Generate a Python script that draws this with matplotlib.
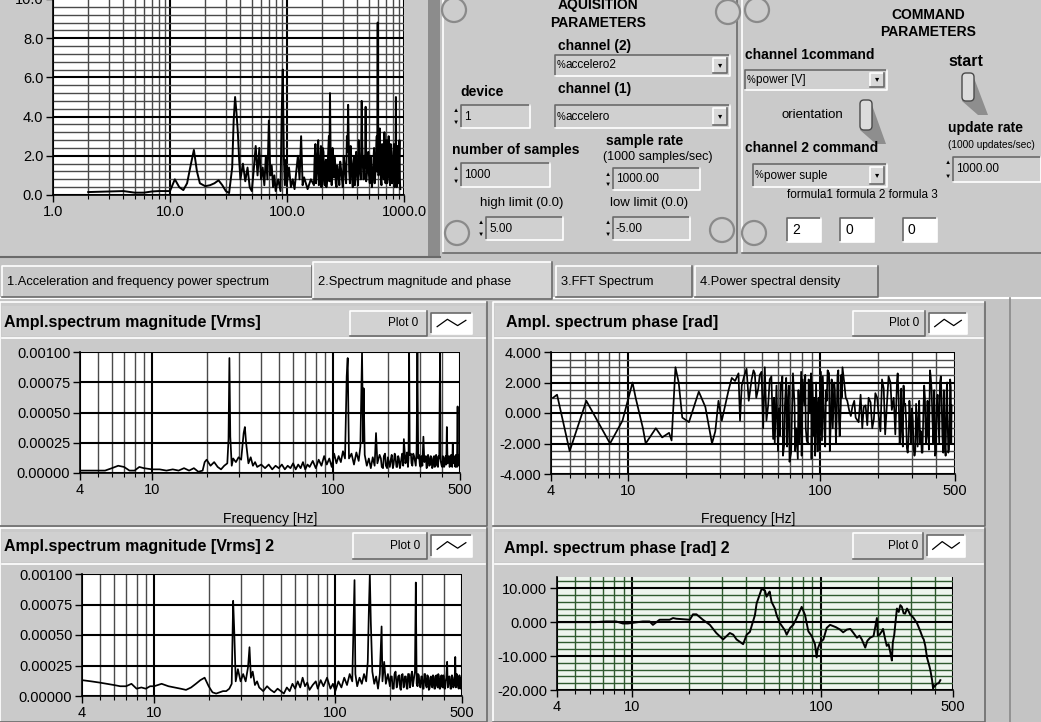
import numpy as np
import matplotlib
matplotlib.use("Agg")
import matplotlib.pyplot as plt
from matplotlib.patches import Rectangle, Circle, FancyBboxPatch, Polygon
from matplotlib.ticker import LogLocator, MultipleLocator, NullFormatter

W, H = 1041, 722
BG = '#c4c4c4'
PANEL = '#cacaca'

plt.rcParams['font.family'] = ['Liberation Sans', 'DejaVu Sans']

# ---- data (frequency [Hz], value) ----
# top left: acceleration / frequency power spectrum
power_pts = [
    (2, 0.15), (3, 0.18), (4, 0.2), (5, 0.12), (6, 0.12), (7, 0.18), (8, 0.2), (9, 0.2), (10, 0.2),
    (11, 0.8), (12, 0.4), (13, 0.25), (14, 0.6), (15, 1.5), (16, 2.3), (17, 1.2), (18, 0.6),
    (20, 0.45), (22, 0.5), (24, 0.6), (26, 0.75), (28, 0.5), (30, 0.2), (32, 0.1), (34, 1.4),
    (35, 3.8), (36, 5.0), (37, 4.2), (38, 3.2), (39, 1.8), (40, 0.8), (42, 1.6), (44, 0.7),
    (46, 1.4), (48, 0.4), (50, 0.2), (52, 1.3), (54, 2.5), (56, 1.0), (58, 2.4), (60, 0.8),
    (62, 1.4), (64, 0.5), (66, 2.0), (68, 0.8), (70, 3.8), (72, 1.0), (74, 1.5), (76, 0.4),
    (78, 1.0), (80, 0.2), (84, 0.8), (88, 0.2), (90, 4.0), (92, 6.4), (94, 2.0), (96, 0.5),
    (98, 1.8), (100, 0.6), (104, 1.4), (108, 0.4), (112, 0.8), (116, 0.3), (120, 1.2),
    (124, 2.0), (128, 0.8), (132, 3.0), (136, 0.5), (140, 0.9), (150, 0.3), (160, 0.8),
    (170, 0.5), (172, 1.8), (175, 2.6), (177, 0.6), (180, 1.2), (182, 2.0), (185, 2.8),
    (187, 0.5), (190, 0.6), (192, 1.6), (195, 2.5), (197, 0.4), (200, 1.0), (202, 2.4),
    (205, 2.2), (207, 0.8), (210, 0.5), (212, 1.5), (215, 1.8), (217, 0.4), (220, 0.8),
    (224, 1.9), (228, 3.0), (230, 0.7), (233, 5.2), (236, 2.0), (238, 1.0), (241, 0.5),
    (245, 2.4), (248, 1.2), (250, 0.9), (254, 2.0), (258, 1.6), (261, 0.6), (265, 0.4),
    (269, 1.5), (275, 1.1), (280, 0.5), (285, 1.7), (290, 1.3), (295, 0.8), (300, 0.4),
    (305, 2.0), (310, 1.6), (315, 0.9), (320, 0.6), (325, 3.0), (329, 2.2), (333, 4.6),
    (340, 1.2), (345, 0.6), (350, 2.5), (355, 1.8), (360, 0.8), (365, 0.4), (370, 1.6),
    (375, 2.0), (380, 0.5), (385, 0.9), (390, 2.2), (395, 1.5), (400, 1.0), (405, 0.5),
    (410, 2.8), (415, 1.8), (420, 1.2), (428, 0.8), (435, 4.8), (440, 2.6), (445, 1.5),
    (452, 0.8), (460, 2.0), (465, 1.4), (470, 4.5), (475, 0.7), (480, 1.0), (488, 1.5),
    (495, 2.2), (502, 1.0), (510, 0.6), (518, 2.0), (525, 1.4), (532, 0.4), (540, 0.8),
    (548, 1.8), (555, 2.4), (562, 0.6), (570, 1.2), (578, 2.2), (585, 3.0), (590, 1.2),
    (596, 8.8), (600, 2.8), (605, 1.0), (612, 1.2), (620, 3.4), (628, 2.0), (635, 0.8),
    (642, 0.5), (650, 2.6), (658, 2.2), (665, 1.2), (672, 0.8), (680, 3.2), (688, 2.0),
    (695, 0.6), (702, 1.2), (710, 2.8), (718, 0.6), (725, 1.0), (732, 2.4), (740, 3.0),
    (750, 1.0), (760, 0.5), (770, 2.6), (780, 2.2), (790, 0.6), (800, 0.8), (810, 1.8),
    (820, 2.6), (830, 0.4), (840, 1.0), (847, 2.0), (853, 5.0), (858, 1.0), (865, 0.4),
    (872, 1.6), (880, 2.5), (890, 1.0), (900, 0.6), (908, 2.0), (915, 2.8), (922, 0.8),
    (930, 0.3),
]

# middle left: amplitude spectrum magnitude [Vrms]
mag1_pts = [
    (4, 0.00002), (5, 0.00002), (5.5, 0.00002), (6, 0.00004), (6.5, 0.00006), (7, 0.00005),
    (7.5, 0.00002), (8, 0.00002), (8.5, 0.00005), (9, 0.00004), (10, 0.00003), (11, 0.00003),
    (12, 0.00002), (13, 0.00003), (14, 0.00002), (15, 0.00004), (16, 0.00002), (17, 0.00004),
    (18, 0.00001), (19, 0.00002), (19.5, 0.00009), (20, 0.00011), (21, 0.00006), (22, 0.00009),
    (23, 0.00005), (24, 0.00003), (25, 0.00006), (26, 0.00008), (26.4, 0.00028), (26.7, 0.00095),
    (27.0, 0.0003), (27.5, 0.00006), (28, 0.00012), (29, 0.00009), (30, 0.00013), (31, 0.00011),
    (32, 0.00033), (32.5, 0.00038), (33, 0.00025), (34, 0.00008), (35, 0.00013), (36, 0.00006),
    (37, 0.00009), (38, 0.00005), (40, 0.00007), (42, 0.00004), (44, 0.00007), (46, 0.00003),
    (48, 0.00006), (50, 0.00004), (52, 0.00007), (54, 0.00003), (56, 0.00006), (58, 0.00004),
    (60, 0.00008), (62, 0.00003), (64, 0.00007), (66, 0.00004), (68, 0.00009), (70, 0.00003),
    (72, 0.00007), (74, 0.00005), (77, 0.0001), (80, 0.00004), (83, 0.00011), (86, 0.00006),
    (89, 0.00014), (92, 0.00007), (95, 0.00012), (98, 0.00005), (101, 0.00016), (104, 0.00008),
    (107, 0.00014), (110, 0.00009), (113, 0.00018), (116, 0.00012), (118.5, 0.0008),
    (120, 0.00095), (122, 0.00012), (126, 0.00016), (130, 0.00007), (134, 0.00017),
    (138, 0.0001), (141, 0.00022), (144, 0.001), (146, 0.00025), (147, 0.0007), (149, 0.00015),
    (153, 0.00006), (157, 0.00012), (161, 0.00004), (165, 0.00013), (169, 0.00006),
    (172, 0.00033), (175, 0.00008), (180, 0.00015), (183, 0.00012), (185, 0.00005),
    (188, 0.00004), (190, 0.00014), (193, 0.00016), (195, 0.00006), (198, 0.00004),
    (200, 0.00013), (205, 0.00005), (208, 0.00012), (210, 0.00015), (213, 0.00004),
    (215, 0.00007), (218, 0.00016), (220, 0.00014), (223, 0.00005), (225, 0.00005),
    (228, 0.00014), (230, 0.00012), (233, 0.00004), (235, 0.00007), (238, 0.00013),
    (240, 0.00016), (243, 0.00006), (245, 0.00028), (250, 0.00008), (253, 0.00012),
    (255, 0.00017), (258, 0.00005), (260, 0.00012), (262, 0.001), (264, 0.00015),
    (268, 0.00016), (270, 0.00008), (273, 0.00006), (276, 0.00016), (279, 0.00014),
    (282, 0.0001), (285, 0.00006), (288, 0.00018), (291, 0.001), (294, 0.00012),
    (297, 0.00015), (300, 0.00007), (303, 0.00005), (306, 0.00014), (310, 0.00006),
    (314, 0.0003), (318, 0.00009), (321, 0.00012), (324, 0.00014), (327, 0.00004),
    (330, 0.00005), (333, 0.00015), (336, 0.00013), (339, 0.00006), (342, 0.00007),
    (345, 0.00014), (348, 0.00012), (351, 0.00004), (354, 0.00005), (357, 0.00013),
    (360, 0.00014), (363, 0.00005), (366, 0.00006), (369, 0.00015), (372, 0.00013),
    (375, 0.00006), (378, 0.00005), (381, 0.00014), (384, 0.00012), (388, 0.001),
    (391, 0.0001), (396, 0.00006), (399, 0.00005), (402, 0.00014), (405, 0.00013),
    (408, 0.00005), (411, 0.00006), (414, 0.00012), (417, 0.00014), (420, 0.00007),
    (423, 0.00038), (427, 0.00008), (432, 0.00013), (435, 0.00014), (438, 0.00005),
    (441, 0.00006), (444, 0.00012), (447, 0.00015), (450, 0.00006), (453, 0.00005),
    (456, 0.00025), (460, 0.00008), (463, 0.00014), (466, 0.00013), (469, 0.00006),
    (472, 0.00005), (475, 0.00015), (478, 0.00012), (481, 0.00005), (485, 0.00055),
    (488, 0.00006), (491, 0.00015), (494, 0.00012), (497, 0.00006), (500, 0.0001),
]

# middle right: amplitude spectrum phase [rad]
phase1_pts = [
    (4.1, 1.0), (4.3, 1.2), (5.0, -2.5), (6.1, 0.8), (8.1, -2.0), (9.4, -0.5), (10.6, 2.0),
    (11.0, 1.0), (12.0, -1.0), (12.4, -2.0), (14.0, -1.0), (15.1, -1.6), (16.4, -1.3),
    (16.9, -1.8), (17.7, 3.0), (18.4, 2.0), (19.2, -0.3), (20.8, -0.6), (23.4, 1.4),
    (25.3, 0.4), (27.4, -2.0), (28.5, -1.2), (29.6, 0.8), (30.8, -0.5), (33.4, 1.5),
    (34.7, 2.3), (36.1, 2.1), (37.6, 2.6), (38.3, -0.5), (39.1, 1.8), (40.2, 2.4),
    (41.4, 2.9), (42.5, 0.8), (44.0, 2.2), (45.0, 2.8), (45.7, 2.6), (46.5, 1.0),
    (47.6, 1.6), (48.5, 2.5), (49.5, 2.7), (50.5, -1.0), (51.5, 3.0), (52.5, -0.5),
    (53.6, 0.5), (54.6, 2.2), (55.7, 2.4), (56.9, -1.7), (57.5, 1.0), (58.0, -2.0),
    (59.2, 1.8), (59.8, -0.5), (60.3, -2.5), (61.0, 0.3), (61.6, -1.5), (62.2, 2.0),
    (63.0, 1.5), (63.5, 2.4), (64.0, -2.8), (65.0, -2.0), (65.5, 0.5), (66.5, 2.3),
    (67.2, -2.2), (68.0, 0.8), (68.6, 1.8), (69.2, -3.2), (70.5, -2.6), (71.0, -1.0),
    (72.1, 2.6), (73.5, 0.5), (74.0, -2.5), (75.0, -1.0), (76.4, -3.0), (77.0, 1.5),
    (78.0, -2.0), (79.5, 2.7), (80.0, -2.8), (81.0, 2.2), (82.7, 0.5), (83.5, 2.5),
    (84.0, -1.0), (85.0, -1.8), (86.1, -2.0), (87.0, 2.2), (88.0, 0.0), (89.5, 2.6),
    (90.0, -3.0), (91.0, 2.0), (92.4, -1.5), (93.0, 1.0), (94.0, -2.8), (95.0, 2.0),
    (96.8, -2.5), (97.5, 0.5), (98.0, 1.0), (99.0, -2.0), (100.7, 2.7), (102.0, -1.8),
    (103.0, 2.4), (104.9, -1.0), (106.0, -2.2), (107.0, 1.5), (108.0, 0.8), (109.1, 2.8),
    (111.0, 2.6), (112.0, -2.5), (113.5, -0.3), (114.5, 2.2), (116.0, -1.0), (117.0, 0.5),
    (118.1, 2.0), (119.0, 1.5), (120.5, -2.0), (121.5, -0.5), (122.8, 2.5), (124.0, 2.8),
    (125.0, -0.5), (126.0, -1.5), (127.7, 0.5), (128.5, 2.5), (129.0, 1.0), (130.3, 3.0),
    (133.0, 2.0), (135.5, 1.0), (138.0, 0.8), (141.0, 0.2), (144.0, -0.2), (146.6, 0.4),
    (150.0, 0.8), (152.5, -0.3), (158.0, -0.6), (161.8, 1.2), (165.1, -1.0), (168.0, 0.4),
    (171.7, 0.5), (175.3, -0.8), (178.0, 1.0), (182.3, 0.7), (186.0, -1.0), (189.6, -0.4),
    (193.0, 1.3), (197.2, 1.0), (201.0, -0.2), (205.1, -1.2), (209.0, 2.2), (213.3, 1.6),
    (217.0, -1.4), (221.8, 0.6), (226.0, 2.4), (231.2, 2.0), (235.0, 0.2), (240.4, 1.0),
    (245.0, -1.4), (250.0, 2.1), (252.0, 2.6), (255.0, 1.0), (258.0, -2.0), (260.0, -1.6),
    (263.0, 1.6), (265.0, -0.8), (268.0, -2.2), (270.4, 1.8), (273.0, 0.5), (276.0, 0.6),
    (279.0, -0.6), (281.3, -2.3), (284.0, -2.6), (287.0, -1.8), (290.0, 0.8), (293.1, -0.5),
    (296.0, -2.0), (299.0, 0.3), (302.0, -0.5), (304.8, -2.3), (308.0, -2.8), (311.0, -2.5),
    (314.0, 0.6), (317.0, -0.8), (320.0, -2.2), (323.0, -0.2), (326.0, 0.8), (329.7, -2.0),
    (333.0, -1.2), (336.0, -2.6), (339.0, -2.6), (342.8, 0.2), (346.0, 1.8), (349.0, 1.0),
    (353.0, -2.0), (356.5, -1.5), (360.0, 0.8), (363.0, -1.0), (366.0, -2.4), (370.8, 2.8),
    (374.0, 2.4), (378.0, 1.5), (382.0, -0.5), (386.3, -2.0), (390.0, 1.5), (394.0, -2.8),
    (398.0, -2.6), (401.8, 0.5), (406.0, 1.2), (410.0, -0.5), (414.0, -2.0), (417.8, 2.0),
    (422.0, 2.4), (426.0, 1.0), (430.0, -1.5), (434.6, -2.6), (438.0, 1.5), (443.0, -2.0),
    (447.0, -2.8), (452.0, 1.4), (455.0, 2.0), (457.0, 0.0), (461.5, -2.6), (465.0, -2.4),
    (468.0, -1.5), (472.0, 2.2), (475.4, 1.7), (478.0, -2.0), (480.0, 0.5),
]

# bottom left: amplitude spectrum magnitude [Vrms] 2
mag2_pts = [
    (4, 0.00013), (4.5, 0.00012), (5, 0.00011), (5.5, 0.0001), (6, 0.00009), (6.5, 0.00008),
    (7, 0.00008), (7.5, 0.0001), (8, 0.00006), (8.5, 0.00007), (9, 0.00006), (9.5, 0.00008),
    (10, 0.00008), (11, 0.0001), (12, 0.00008), (13, 0.00007), (14, 0.00006), (15, 0.00005),
    (16, 0.00007), (17, 0.0001), (18, 0.00013), (19, 0.00015), (20, 0.00008), (21, 0.00003),
    (22, 0.00002), (23, 0.00003), (24, 0.00004), (25, 0.00004), (26, 0.00006), (26.8, 0.0001),
    (27.3, 0.00078), (27.7, 0.00052), (28.2, 0.00012), (29, 0.00022), (30, 0.00012),
    (31, 0.00018), (32, 0.00012), (33, 0.00024), (33.6, 0.0004), (34.2, 0.00015), (35, 0.0002),
    (36, 0.00009), (37, 0.00012), (38, 0.00007), (40, 0.00004), (42, 0.00008), (44, 0.00005),
    (46, 0.00003), (48, 0.00006), (50, 0.00004), (52, 0.00002), (54, 0.00007), (56, 0.00004),
    (58, 0.0001), (60, 0.00006), (62, 0.00012), (64, 0.00007), (66, 0.00015), (68, 0.00008),
    (70, 0.00011), (72, 0.00005), (75, 0.00009), (78, 0.00012), (80, 0.00006), (83, 0.00013),
    (86, 0.00008), (90, 0.00015), (94, 0.00006), (97, 0.0001), (100, 0.00004), (104, 0.00012),
    (108, 0.00007), (112, 0.00015), (116, 0.00009), (120, 0.00018), (124, 0.00012),
    (127.6, 0.00095), (129, 0.00018), (132, 0.00008), (136, 0.00015), (140, 0.0001),
    (144, 0.00018), (148, 0.00012), (151, 0.00028), (153, 0.00068), (155, 0.001),
    (157, 0.0006), (160, 0.0002), (164, 0.0001), (168, 0.00016), (172, 0.00006),
    (176, 0.00018), (180, 0.00057), (182, 0.00012), (186, 0.00028), (190, 0.0001),
    (195, 0.00018), (200, 0.00008), (202, 0.00016), (205, 0.00016), (207, 0.00006),
    (210, 0.00006), (212, 0.00018), (215, 0.0002), (218, 0.00007), (220, 0.00009),
    (222, 0.00016), (225, 0.00017), (228, 0.00006), (230, 0.00005), (232, 0.00017),
    (235, 0.00018), (238, 0.00007), (240, 0.00008), (242, 0.00016), (245, 0.00016),
    (248, 0.00006), (250, 0.00006), (252, 0.00018), (255, 0.00018), (258, 0.00007),
    (260, 0.00009), (262, 0.00017), (265, 0.0002), (268, 0.00008), (270, 0.00012),
    (275, 0.0002), (278, 0.00093), (281, 0.0001), (284, 0.00008), (286, 0.00018),
    (289, 0.00017), (292, 0.00008), (295, 0.00007), (298, 0.00016), (301, 0.00016),
    (304, 0.00006), (307, 0.00006), (310, 0.00018), (313, 0.00018), (316, 0.00009),
    (319, 0.00007), (322, 0.00017), (325, 0.00016), (328, 0.00005), (331, 0.00006),
    (334, 0.00015), (337, 0.00016), (340, 0.00008), (343, 0.00007), (346, 0.00017),
    (349, 0.00016), (352, 0.00006), (355, 0.00006), (358, 0.00016), (361, 0.00017),
    (364, 0.00009), (367, 0.00007), (370, 0.00018), (373, 0.00016), (376, 0.00006),
    (379, 0.00006), (382, 0.00015), (385, 0.00017), (388, 0.00008), (391, 0.00007),
    (394, 0.00017), (397, 0.00016), (400, 0.00006), (403, 0.00006), (406, 0.00012),
    (410, 0.00015), (414, 0.00028), (417, 0.00007), (420, 0.00008), (424, 0.00016),
    (428, 0.00016), (432, 0.00006), (436, 0.00006), (440, 0.00017), (444, 0.00015),
    (448, 0.00007), (452, 0.00009), (456, 0.00016), (459, 0.00032), (462, 0.00007),
    (465, 0.00008), (468, 0.00018), (472, 0.00016), (476, 0.00007), (480, 0.00006),
    (484, 0.00017), (488, 0.00014), (492, 0.00006), (495, 0.00008), (498, 0.00015),
    (500, 0.00012),
]

# bottom right: amplitude spectrum phase [rad] 2
phase2_pts = [
    (4, 0.0), (5, 0.0), (6.4, 0.0), (7.28, 0.2), (8.22, 0.2), (8.93, -0.4), (9.49, -0.4),
    (11.4, 0.2), (12.37, 0.2), (12.88, -0.8), (13.97, 0.7), (15.79, 0.7), (16.46, 1.2),
    (17.14, 1.0), (20.2, 0.7), (21.0, 2.3), (21.9, 2.3), (23.7, 0.7), (25.8, -0.8),
    (27.9, -3.2), (30.3, -5.1), (32.9, -3.2), (34.3, -3.7), (35.7, -5.1), (38.7, -6.5),
    (40.4, -3.7), (42.0, -2.9), (44.7, 2.1), (45.6, 5.5), (48.5, 9.8), (50.5, 9.3),
    (51.5, 7.5), (52.6, 8.4), (53.5, 9.0), (54.7, 6.0), (57.0, 4.0), (58.2, 2.1),
    (60.6, -0.3), (63.1, -1.7), (64.5, -2.5), (65.8, -3.7), (68.6, -1.7), (71.3, -0.8),
    (74.3, 1.2), (79.0, 4.5), (82.3, 2.1), (85.7, -2.7), (89.3, -4.1), (92.9, -6.5),
    (94.8, -10.4), (96.0, -8.0), (98.9, -6.0), (103.0, -5.1), (107.2, -1.7), (111.7, -0.8),
    (116.4, -1.2), (120.0, -1.5), (126.2, -2.2), (131.0, -3.0), (137.1, -2.2), (143.0, -2.0),
    (148.6, -3.2), (154.9, -4.6), (160.0, -4.0), (164.5, -5.1), (171.5, -7.5), (176.0, -5.5),
    (182.0, -4.6), (189.8, -4.1), (197.7, 1.2), (200.0, -4.0), (204.2, -3.7), (209.9, -2.7),
    (213.0, -2.0), (218.8, -5.1), (223.0, -7.0), (228.0, -6.5), (233.0, -9.0), (237.3, -11.3),
    (240.0, -6.0), (244.3, -3.7), (248.0, 0.0), (252.4, 4.0), (258.0, 3.0), (263.0, 5.0),
    (268.0, 4.5), (273.8, 2.6), (279.0, 2.5), (285.4, 4.0), (291.0, 3.2), (297.5, 2.1),
    (303.0, 1.8), (309.4, 1.2), (322.3, -0.3), (335.8, -2.7), (345.0, -4.5), (350.0, -5.1),
    (356.6, -7.0), (364.1, -10.4), (375.0, -13.0), (379.5, -14.2), (387.4, -17.1),
    (392.0, -19.5), (395.4, -18.6), (400.0, -19.0), (405.0, -18.5), (411.3, -18.1),
    (420.0, -18.0), (428.5, -17.1),
]

tab_names = ['1.Acceleration and frequency power spectrum', '2.Spectrum magnitude and phase',
             '3.FFT Spectrum', '4.Power spectral density']
mag_ticks = [0, 0.00025, 0.0005, 0.00075, 0.001]
mag_labels = ['0.00000', '0.00025', '0.00050', '0.00075', '0.00100']
freq_ticks = [4, 10, 100, 500]
freq_labels = ['4', '10', '100', '500']

fig = plt.figure(figsize=(W / 100, H / 100), dpi=100)
fig.patch.set_facecolor(BG)
ui = fig.add_axes([0, 0, 1, 1])
ui.axis('off')
ui.set_zorder(1)


def rect(x0, y0, x1, y1):
    return [x0 / W, 1 - y1 / H, (x1 - x0) / W, (y1 - y0) / H]


def fill(x0, y0, x1, y1, fc, ec='none', lw=1.0, z=1):
    ui.add_patch(Rectangle((x0, y0), x1 - x0, y1 - y0, facecolor=fc, edgecolor=ec, lw=lw, zorder=z))


def bevel(x0, y0, x1, y1, fc=PANEL, raised=True, lw=1.2, z=1):
    fill(x0, y0, x1, y1, fc, z=z)
    hi, lo = ('white', '#6a6a6a') if raised else ('#6a6a6a', 'white')
    ui.plot([x0, x0, x1], [y1, y0, y0], color=hi, lw=lw, zorder=z + 0.1)
    ui.plot([x0, x1, x1], [y1, y1, y0], color=lo, lw=lw, zorder=z + 0.1)


def label(x, y, s, size=8.5, bold=False, ha='left', color='black'):
    ui.text(x, y, s, fontsize=size, fontweight='bold' if bold else 'normal',
            ha=ha, va='center', color=color, zorder=6)


def ring(x0, y0, x1, y1, text):
    bevel(x0, y0, x1, y1, fc='#d0d0d0', raised=False, z=2)
    mid = (y0 + y1) / 2
    label(x0 + 2, mid, '%', 7)
    label(x0 + 11, mid, text, 8.5)
    bevel(x1 - 17, y0 + 3, x1 - 3, y1 - 3, fc='#d8d8d8', raised=True, z=3)
    label(x1 - 10, mid, '\u25be', 6, ha='center')


def numeric(x0, y0, x1, y1, text):
    label(x0, y0 + 6, '\u25b2', 4.5)
    label(x0, y1 - 6, '\u25bc', 4.5)
    bevel(x0 + 8, y0, x1, y1, fc='#d0d0d0', raised=False, z=2)
    label(x0 + 11, (y0 + y1) / 2, text, 8.5)


def knob(x, y):
    ui.add_patch(Circle((x, y), 12, facecolor='#cdcdcd', edgecolor='#8a8a8a', lw=1.6, zorder=2))


def toggle(x, y, w, h):
    ui.add_patch(Polygon([[x + w, y + 5], [x + w + 14, y + h + 14], [x + w + 4, y + h + 14],
                          [x, y + h]], closed=True, facecolor='#8e8e8e', edgecolor='none', zorder=2))
    ui.add_patch(FancyBboxPatch((x, y), w, h, boxstyle='round,pad=0,rounding_size=4',
                                facecolor='#dcdcdc', edgecolor='#4a4a4a', lw=1.0, zorder=3))


def legend_button(x0, y0, x1, y1, g1):
    bevel(x0, y0, x1, y1, fc='#d2d2d2', raised=True, z=2)
    label((x0 + x1) / 2, (y0 + y1) / 2, 'Plot 0', 8.5)
    bevel(x1 + 4, y0 + 2, g1, y1 - 2, fc='white', raised=False, z=2)
    gx = np.array([0.15, 0.4, 0.65, 0.85])
    gy = np.array([0.65, 0.3, 0.6, 0.35])
    ui.plot(x1 + 4 + gx * (g1 - x1 - 4), y0 + 2 + gy * (y1 - y0 - 4), color='black', lw=0.9, zorder=4)


def graph(px, pts, xlim, ylim, yt, ylab, xt, xlab, ystep=None, face='white', minor='#4a4a4a', lw=1.25):
    f, v = zip(*sorted(pts))
    ax = fig.add_axes(rect(*px))
    ax.set_zorder(3)
    ax.set_xscale('log')
    ax.plot(f, v, color='black', lw=lw)
    ax.set_xlim(*xlim)
    ax.set_ylim(*ylim)
    ax.set_facecolor(face)
    ax.set_xticks(xt)
    ax.set_xticklabels(xlab)
    ax.xaxis.set_minor_locator(LogLocator(base=10, subs=(2, 3, 4, 5, 6, 7, 8, 9), numticks=12))
    ax.xaxis.set_minor_formatter(NullFormatter())
    ax.set_yticks(yt)
    ax.set_yticklabels(ylab)
    if ystep:
        ax.yaxis.set_minor_locator(MultipleLocator(ystep))
    ax.set_axisbelow(True)
    ax.grid(True, which='major', color='black', lw=1.5)
    ax.grid(True, which='minor', color=minor, lw=1.0)
    ax.tick_params(which='both', direction='out', labelsize=10.5, colors='black', pad=2)
    ax.tick_params(which='major', length=5, width=1)
    ax.tick_params(axis='x', which='minor', length=3, width=0.8)
    ax.tick_params(axis='y', which='minor', length=0)
    for s in ('top', 'right'):
        ax.spines[s].set_visible(False)
    for s in ('left', 'bottom'):
        ax.spines[s].set_linewidth(1.2)
    return ax


# ---- top left graph panel ----
fill(0, 0, 432, 256, PANEL)
fill(428, 0, 440, 258, '#8c8c8c')
ui.plot([0, 440], [257, 257], color='#6a6a6a', lw=1.5, zorder=2)
graph((53, -1, 404, 195), power_pts, (1, 1000), (0, 10), [0, 2, 4, 6, 8, 10],
      ['0.0', '2.0', '4.0', '6.0', '8.0', '10.0'], [1, 10, 100, 1000],
      ['1.0', '10.0', '100.0', '1000.0'], ystep=0.4, lw=1.4)

# ---- acquisition parameters ----
bevel(443, -2, 737, 253, fc=PANEL, raised=True, z=1)
label(598, 5, 'AQUISITION', 10, True, 'center')
label(598, 23, 'PARAMETERS', 10, True, 'center')
for kx, ky in [(454, 10), (728, 12), (457, 233), (722, 230)]:
    knob(kx, ky)
label(558, 46, 'channel (2)', 10, True)
ring(555, 55, 730, 76, 'accelero2')
label(460, 92, 'device', 10, True)
numeric(453, 105, 530, 128, '1')
label(558, 89, 'channel (1)', 10, True)
ring(555, 105, 730, 128, 'accelero')
label(452, 150, 'number of samples', 10, True)
numeric(453, 163, 550, 187, '1000')
label(606, 141, 'sample rate', 10, True)
label(603, 157, '(1000 samples/sec)', 9)
numeric(605, 168, 700, 190, '1000.00')
label(480, 203, 'high limit (0.0)', 9.5)
numeric(478, 217, 563, 240, '5.00')
label(610, 203, 'low limit (0.0)', 9.5)
numeric(605, 217, 690, 240, '-5.00')

# ---- command parameters ----
bevel(742, -2, 1045, 253, fc=PANEL, raised=True, z=1)
knob(757, 10)
knob(754, 233)
label(928, 15, 'COMMAND', 10, True, 'center')
label(928, 32, 'PARAMETERS', 10, True, 'center')
label(745, 55, 'channel 1command', 10, True)
ring(745, 70, 887, 90, 'power [V]')
label(948, 62, 'start', 11.5, True)
toggle(962, 73, 12, 28)
label(782, 115, 'orientation', 9.5)
toggle(860, 100, 12, 30)
label(948, 128, 'update rate', 10, True)
label(948, 145, '(1000 updates/sec)', 7.3)
numeric(945, 157, 1041, 182, '1000.00')
label(745, 148, 'channel 2 command', 10, True)
ring(753, 164, 887, 187, 'power suple')
label(787, 195, 'formula1 formula 2 formula 3', 8.5)
for bx0, txt in [(787, '2'), (840, '0'), (903, '0')]:
    bevel(bx0, 218, bx0 + 34, 242, fc='white', raised=False, z=2)
    label(bx0 + 5, 230, txt, 10)

# ---- tabs ----
ui.plot([0, W], [298, 298], color='white', lw=1.5, zorder=2)
tab_x = [(2, 312), (313, 552), (556, 692), (695, 878)]
for i, ((tx0, tx1), name) in enumerate(zip(tab_x, tab_names)):
    if i == 1:
        bevel(tx0, 262, tx1, 299, fc='#d4d4d4', raised=True, z=3)
    else:
        bevel(tx0, 266, tx1, 297, fc='#c8c8c8', raised=True, z=2)
    label(tx0 + 5, 282, name, 9.3)

# ---- lower graph panels ----
for px0, px1 in [(0, 487), (493, 985)]:
    for py0, py1 in [(302, 526), (528, 722)]:
        bevel(px0, py0, px1, py1, fc=PANEL, raised=True, z=1)
        fill(px0 + 2, py0 + 4, px1 - 2, py0 + 34, '#d0d0d0', z=1.5)
        ui.plot([px0 + 2, px1 - 2], [py0 + 36, py0 + 36], color='white', lw=1.2, zorder=2)
ui.plot([1010, 1010], [298, 722], color='#8a8a8a', lw=1.2, zorder=2)

label(4, 323, 'Ampl.spectrum magnitude [Vrms]', 11.5, True)
legend_button(350, 311, 427, 336, 472)
label(506, 323, 'Ampl. spectrum phase [rad]', 11.5, True)
legend_button(853, 311, 925, 336, 967)
label(4, 547, 'Ampl.spectrum magnitude [Vrms] 2', 11.5, True)
legend_button(353, 533, 427, 559, 472)
label(504, 548, 'Ampl. spectrum phase [rad] 2', 11.5, True)
legend_button(853, 533, 923, 559, 965)

graph((80, 352, 460, 473), mag1_pts, (4, 500), (0, 0.001), mag_ticks, mag_labels,
      freq_ticks, freq_labels)
label(270, 519, 'Frequency [Hz]', 10, ha='center')

graph((551, 352, 955, 474), phase1_pts, (4, 500), (-4, 4), [-4, -2, 0, 2, 4],
      ['-4.000', '-2.000', '0.000', '2.000', '4.000'], freq_ticks, freq_labels, ystep=0.5)
label(748, 519, 'Frequency [Hz]', 10, ha='center')

graph((82, 574, 462, 696), mag2_pts, (4, 500), (0, 0.001), mag_ticks, mag_labels,
      freq_ticks, freq_labels)

graph((557, 577, 953, 690), phase2_pts, (4, 500), (-20, 13.3), [-20, -10, 0, 10],
      ['-20.000', '-10.000', '0.000', '10.000'], freq_ticks, freq_labels, ystep=2,
      face='#eef5ee', minor='#2f5a2f', lw=1.4)

ui.set_xlim(0, W)
ui.set_ylim(H, 0)

fig.savefig('out.png', dpi=100, facecolor=fig.get_facecolor())
